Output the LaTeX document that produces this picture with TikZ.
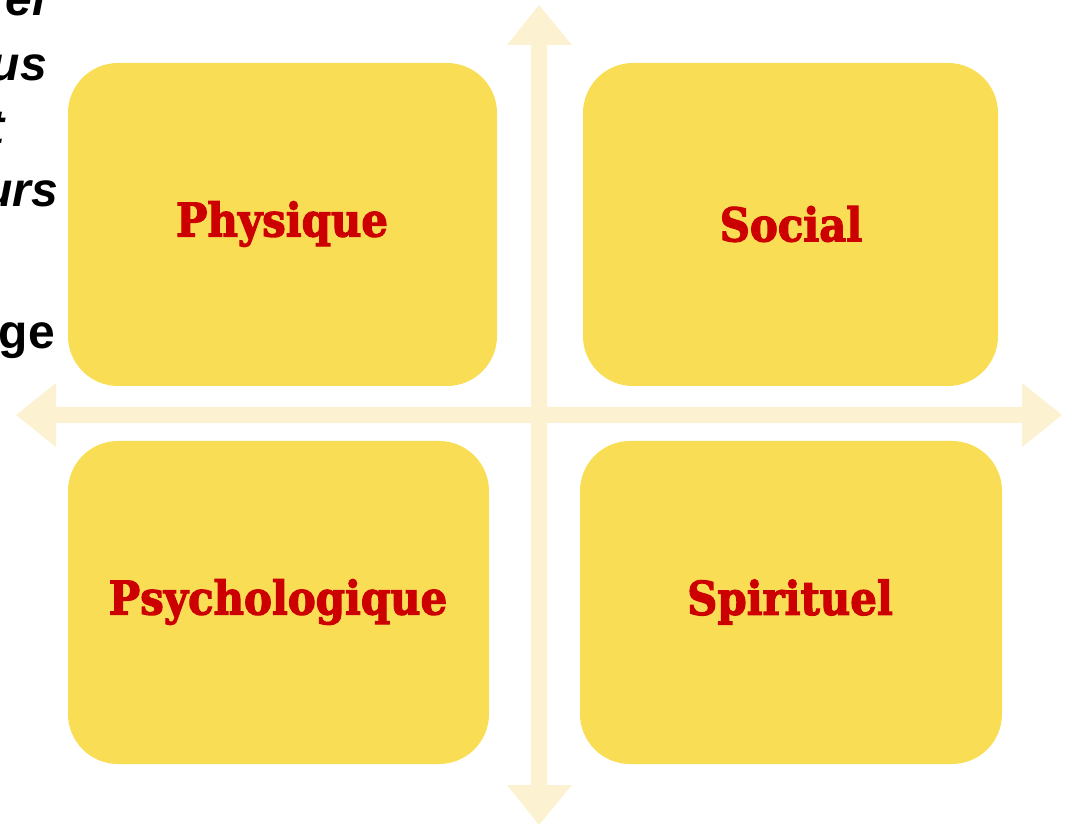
\documentclass[tikz,border=0pt]{standalone}
\usepackage{fontspec}
\setmainfont{Liberation Sans}
\newfontfamily\boxfont[FakeStretch=0.9,FakeBold=2.5]{DejaVu Serif}
\definecolor{boxyellow}{HTML}{F9DE55}
\definecolor{boxred}{HTML}{CC0000}
\definecolor{arrowpale}{HTML}{FCF1D1}
\tikzset{
  quad/.style={fill=boxyellow, draw=none, rounded corners=50pt},
  quadlabel/.style={text=boxred, font=\boxfont\bfseries\fontsize{46.5}{50}\selectfont, inner sep=0pt},
  arrowshape/.style={fill=arrowpale, draw=none},
  sidetext/.style={font=\fontsize{48}{50}\selectfont\bfseries, anchor=base east, inner sep=0pt, text=black},
}
\begin{document}
\begin{tikzpicture}[x=1pt,y=-1pt]
\useasboundingbox (0,0) rectangle (1072,826);
% cross arrows
\fill[arrowpale] (531,45) -- (507,45) -- (539,5) -- (572,45) -- (547,45) -- (547,785) -- (572,785) -- (539,825) -- (507,785) -- (531,785) -- cycle;
\fill[arrowpale] (56,407) -- (56,383) -- (16,415) -- (56,447) -- (56,423) -- (1022,423) -- (1022,447) -- (1062,415) -- (1022,383) -- (1022,407) -- cycle;
% quadrant boxes
\fill[quad] (68,63) rectangle (497,386);
\fill[quad] (583,63) rectangle (998,386);
\fill[quad] (68,441) rectangle (489,764);
\fill[quad] (580,441) rectangle (1002,764);
\node[quadlabel] (phys) at (282,224) {Physique};
\node[quadlabel] (soc) at (791,224) {Social};
\node[quadlabel] (psy) at (278,602) {Psychologique};
\node[quadlabel] (spi) at (790,602) {Spirituel};
% cut-off side text
\node[sidetext] (t1) at (46,16) {\itshape el};
\node[sidetext] (t2) at (47,81) {\itshape us};
\node[sidetext] (t3) at (5,144) {\itshape t};
\node[sidetext] (t4) at (58,207) {\itshape urs};
\node[sidetext] (t5) at (55,349) {ge};
\end{tikzpicture}
\end{document}
